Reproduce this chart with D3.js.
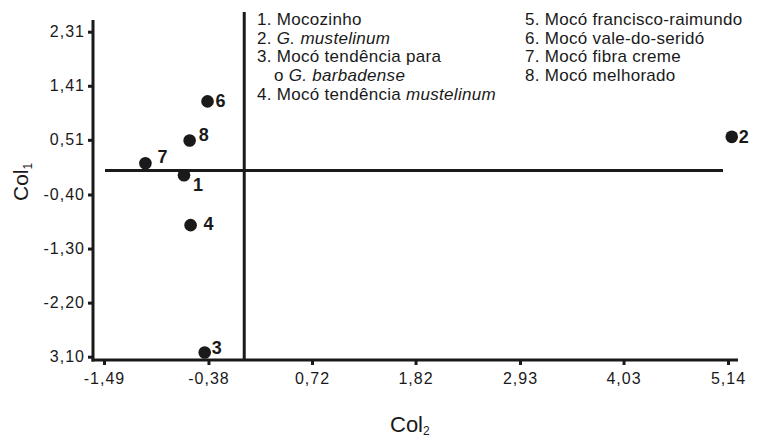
<!DOCTYPE html>
<html>
<head>
<meta charset="utf-8">
<script src="https://cdn.jsdelivr.net/npm/d3@7"></script>
<style>
  body { margin: 0; background: #fff; }
  text { font-family: "Liberation Sans", Arial, sans-serif; fill: #1a1a1a; }
  .tick text { font-size: 16px; letter-spacing: 1px; }
  .legend text { font-size: 17px; letter-spacing: 0.3px; }
  .pt-label { font-size: 18px; font-weight: bold; }
</style>
</head>
<body>
<div id="chart"></div>
<script>
var width = 758, height = 437;

// genotypes (point number, Col2, Col1)
var ids  = ["1", "2", "3", "4", "6", "7", "8"];
var col2 = [-0.64, 5.18, -0.42, -0.57, -0.39, -1.05, -0.58];
var col1 = [-0.08, 0.56, -3.03, -0.91, 1.15, 0.12, 0.50];

var xTicks = [-1.49, -0.38, 0.72, 1.82, 2.93, 4.03, 5.14];
var xTickLabels = ["-1,49", "-0,38", "0,72", "1,82", "2,93", "4,03", "5,14"];
var yTicks = [2.31, 1.41, 0.51, -0.40, -1.30, -2.20, -3.10];
var yTickLabels = ["2,31", "1,41", "0,51", "-0,40", "-1,30", "-2,20", "3,10"];

var legendLeft = [
  [{t: "1. Mocozinho"}],
  [{t: "2. "}, {t: "G. mustelinum", i: true}],
  [{t: "3. Mocó tendência para"}],
  [{t: "o "}, {t: "G. barbadense", i: true}],
  [{t: "4. Mocó tendência "}, {t: "mustelinum", i: true}]
];
var legendRight = [
  [{t: "5. Mocó francisco-raimundo"}],
  [{t: "6. Mocó vale-do-seridó"}],
  [{t: "7. Mocó fibra creme"}],
  [{t: "8. Mocó melhorado"}]
];

// label offsets relative to each point
var labelDx = [9, 7, 7, 13, 8, 12, 9];
var labelDy = [16, 6, 2, 5, 6, 0, 1];

var frame = {left: 93, top: 20, bottom: 360, right: 738};

var x = d3.scaleLinear().domain([-1.49, 5.14]).range([104, 728]);
var y = d3.scaleLinear().domain([-3.10, 2.31]).range([356.7, 31.7]);

var svg = d3.select("#chart").append("svg")
  .attr("width", width)
  .attr("height", height);

var ink = "#1a1a1a";

// axes
var xAxis = d3.axisBottom(x).tickValues(xTicks)
  .tickFormat(function(d, i) { return xTickLabels[i]; })
  .tickSize(5).tickPadding(8);
var gx = svg.append("g").attr("transform", "translate(0," + frame.bottom + ")").call(xAxis);

var yAxis = d3.axisLeft(y).tickValues(yTicks)
  .tickFormat(function(d, i) { return yTickLabels[i]; })
  .tickSize(5).tickPadding(3);
var gy = svg.append("g").attr("transform", "translate(" + frame.left + ",0)").call(yAxis);

[gx, gy].forEach(function(g) {
  g.select(".domain").remove();
  g.selectAll(".tick line").attr("stroke", ink).attr("stroke-width", 3);
  g.selectAll(".tick text").attr("fill", ink);
});

// axis lines
svg.append("line")
  .attr("x1", frame.left).attr("x2", frame.left)
  .attr("y1", frame.top).attr("y2", frame.bottom + 1.5)
  .attr("stroke", ink).attr("stroke-width", 3);
svg.append("line")
  .attr("x1", frame.left - 1.5).attr("x2", frame.right)
  .attr("y1", frame.bottom).attr("y2", frame.bottom)
  .attr("stroke", ink).attr("stroke-width", 3);

// reference lines through zero
svg.append("line")
  .attr("x1", x(0)).attr("x2", x(0))
  .attr("y1", 12).attr("y2", frame.bottom)
  .attr("stroke", ink).attr("stroke-width", 3);
svg.append("line")
  .attr("x1", x(-1.49) + 1).attr("x2", x(5.14) - 5)
  .attr("y1", y(0)).attr("y2", y(0))
  .attr("stroke", ink).attr("stroke-width", 3);

// points
svg.append("g").selectAll("circle")
  .data(ids)
  .enter()
  .append("circle")
  .attr("cx", function(d, i) { return x(col2[i]); })
  .attr("cy", function(d, i) { return y(col1[i]); })
  .attr("r", 6.3)
  .attr("fill", ink);

svg.append("g").selectAll("text")
  .data(ids)
  .enter()
  .append("text")
  .attr("class", "pt-label")
  .attr("x", function(d, i) { return x(col2[i]) + labelDx[i]; })
  .attr("y", function(d, i) { return y(col1[i]) + labelDy[i]; })
  .text(function(d) { return d; });

// legend
function drawLegend(lines, x0, indent) {
  var g = svg.append("g").attr("class", "legend");
  lines.forEach(function(parts, i) {
    var t = g.append("text")
      .attr("x", x0 + (indent && indent[i] ? indent[i] : 0))
      .attr("y", 25 + i * 18.7);
    parts.forEach(function(p) {
      t.append("tspan").attr("font-style", p.i ? "italic" : null).text(p.t);
    });
  });
}
drawLegend(legendLeft, 257, [0, 0, 0, 17, 0]);
drawLegend(legendRight, 525);

// axis titles
var xt = svg.append("text")
  .attr("x", 390).attr("y", 432)
  .attr("font-size", 22);
xt.append("tspan").text("Col");
xt.append("tspan").attr("font-size", 12).attr("dy", 3).text("2");

var yt = svg.append("text")
  .attr("transform", "translate(28,201) rotate(-90)")
  .attr("font-size", 21);
yt.append("tspan").text("Col");
yt.append("tspan").attr("font-size", 12).attr("dy", 4).text("1");
</script>
</body>
</html>
